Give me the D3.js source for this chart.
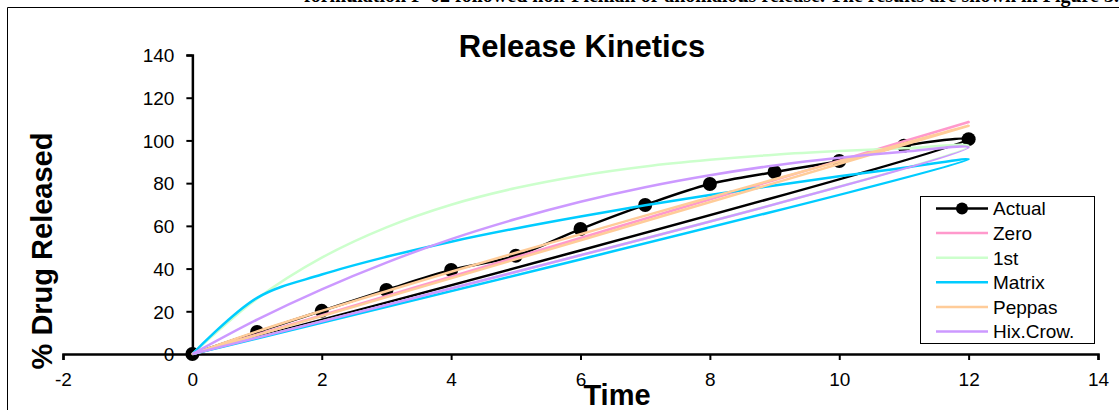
<!DOCTYPE html>
<html>
<head>
<meta charset="utf-8">
<script src="https://cdn.jsdelivr.net/npm/d3@7"></script>
<style>
    html, body { margin: 0; padding: 0; background: #fff; }
    .chart-container { width: 1119px; height: 410px; overflow: hidden; }
    text { font-family: 'Liberation Sans', Arial, sans-serif; }
</style>
</head>
<body>
<div class="chart-container"></div>
<script>
/* global d3 */
var times = [0, 1, 2, 3, 4, 5, 6, 7, 8, 9, 10, 11, 12];
var actual = [0, 10.3, 20.2, 30.0, 39.3, 46.0, 58.5, 69.8, 79.6, 85.2, 90.4, 97.5, 100.6];
var zeroOrder = [0, 9.1, 18.1, 27.2, 36.2, 45.3, 54.3, 63.4, 72.4, 81.5, 90.5, 99.6, 108.6];
var firstOrder = [0, 25.9, 45.1, 59.3, 69.9, 77.7, 83.5, 87.8, 90.9, 93.3, 95.0, 96.3, 97.3];
var matrix = [0, 26.3, 37.2, 45.5, 52.6, 58.8, 64.4, 69.6, 74.4, 78.9, 83.2, 87.2, 91.1];
var peppas = [0, 10.6, 20.2, 29.4, 38.5, 47.4, 56.1, 64.8, 73.3, 81.8, 90.2, 98.6, 106.9];
var hixCrow = [0, 16.1, 30.3, 42.8, 53.8, 63.2, 71.3, 78.1, 83.7, 88.3, 91.9, 94.7, 96.7];

var seriesNames = ['Actual', 'Zero', '1st', 'Matrix', 'Peppas', 'Hix.Crow.'];
var xTicks = [-2, 0, 2, 4, 6, 8, 10, 12, 14];
var yTicks = [0, 20, 40, 60, 80, 100, 120, 140];

(function() {
    'use strict';

    var colors = ['#000000', '#ff99cc', '#ccffcc', '#00ccff', '#ffcc99', '#cc99ff'];
    var values = [actual, zeroOrder, firstOrder, matrix, peppas, hixCrow];

    var svg = d3.select('.chart-container')
        .append('svg')
        .attr('width', 1119)
        .attr('height', 410);

    // cut-off line of body text above the figure
    svg.append('text')
        .attr('x', 1119)
        .attr('y', 2)
        .attr('text-anchor', 'end')
        .style('font-family', "'Liberation Serif', 'Times New Roman', serif")
        .style('font-size', '20px')
        .style('font-weight', 'bold')
        .text('formulation F-02 followed non-Fickian or anomalous release. The results are shown in Figure 3.');

    // chart frame (only top and left edges are in view)
    svg.append('path')
        .attr('d', 'M7.5,420V7.5H1130')
        .attr('fill', 'none')
        .attr('stroke', '#000')
        .attr('stroke-width', 1);

    var x = d3.scaleLinear().domain([-2, 14]).range([63, 1098]);
    var y = d3.scaleLinear().domain([0, 140]).range([354, 55]);

    svg.append('text')
        .attr('x', 582)
        .attr('y', 57)
        .attr('text-anchor', 'middle')
        .style('font-size', '31px')
        .style('font-weight', 'bold')
        .text('Release Kinetics');

    // x axis sits on y = 0, y axis on x = 0
    var xAxis = svg.append('g')
        .attr('transform', 'translate(0,' + y(0) + ')')
        .call(d3.axisBottom(x).tickValues(xTicks).tickSize(6).tickSizeOuter(6).tickPadding(11)
            .tickFormat(function(d) { return String(d); }));

    var yAxis = svg.append('g')
        .attr('transform', 'translate(' + x(0) + ',0)')
        .call(d3.axisLeft(y).tickValues(yTicks).tickSize(6).tickSizeOuter(6).tickPadding(12));

    [xAxis, yAxis].forEach(function(ax) {
        ax.select('.domain').attr('stroke-width', 2.5);
        ax.selectAll('.tick line').attr('stroke-width', 2);
        ax.selectAll('.tick text')
            .style('font-family', "'Liberation Sans', Arial, sans-serif")
            .style('font-size', '19px')
            .attr('fill', '#000');
    });
    yAxis.selectAll('.tick text').attr('dy', '0.36em');
    xAxis.selectAll('.tick text').attr('dy', '0.8em');

    svg.append('text')
        .attr('x', 617)
        .attr('y', 405)
        .attr('text-anchor', 'middle')
        .style('font-size', '29px')
        .style('font-weight', 'bold')
        .text('Time');

    svg.append('text')
        .attr('transform', 'translate(52,251) rotate(-90)')
        .attr('text-anchor', 'middle')
        .style('font-size', '29px')
        .style('font-weight', 'bold')
        .text('% Drug Released');

    // each series in the sheet runs back to its first point, hence the return line
    var line = d3.line()
        .x(function(d) { return x(d[0]); })
        .y(function(d) { return y(d[1]); })
        .curve(d3.curveCatmullRom.alpha(0.5));

    var series = values.map(function(vals, i) {
        var pts = times.map(function(t, j) { return [t, vals[j]]; });
        pts.push(pts[0]);
        return { name: seriesNames[i], color: colors[i], points: pts };
    });

    var plot = svg.append('g');

    series.forEach(function(s, i) {
        plot.append('path')
            .attr('d', line(s.points))
            .attr('fill', 'none')
            .attr('stroke', s.color)
            .attr('stroke-width', 2.5)
            .attr('stroke-linejoin', 'round');

        if (i === 0) {
            plot.selectAll('circle')
                .data(times)
                .enter()
                .append('circle')
                .attr('cx', function(d) { return x(d); })
                .attr('cy', function(d, j) { return y(actual[j]); })
                .attr('r', 7)
                .attr('fill', '#000');
        }
    });

    // legend
    var legend = svg.append('g');
    legend.append('rect')
        .attr('x', 920.5)
        .attr('y', 196.5)
        .attr('width', 174)
        .attr('height', 147)
        .attr('fill', '#fff')
        .attr('stroke', '#000')
        .attr('stroke-width', 1);

    var item = legend.selectAll('.item')
        .data(series)
        .enter()
        .append('g')
        .attr('class', 'item')
        .attr('transform', function(d, i) { return 'translate(0,' + (208.5 + i * 24.6) + ')'; });

    item.append('line')
        .attr('x1', 936)
        .attr('x2', 988)
        .attr('stroke', function(d) { return d.color; })
        .attr('stroke-width', 2.5);

    item.filter(function(d, i) { return i === 0; })
        .append('circle')
        .attr('cx', 962)
        .attr('r', 6)
        .attr('fill', '#000');

    item.append('text')
        .attr('x', 993)
        .attr('dy', '0.36em')
        .style('font-size', '19px')
        .text(function(d) { return d.name; });
})();
</script>
</body>
</html>
